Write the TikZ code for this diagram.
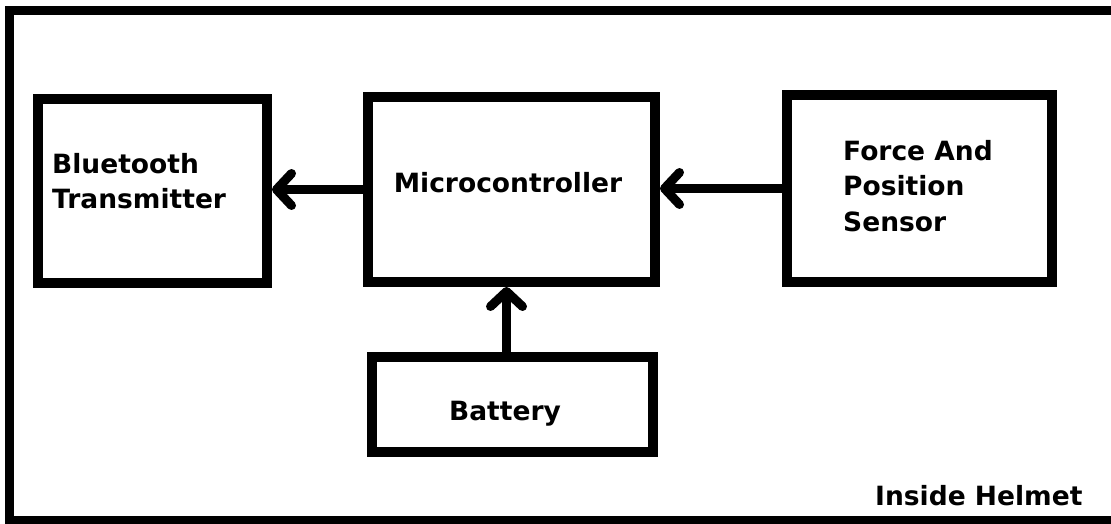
\documentclass[tikz,border=0pt]{standalone}
\usepackage{fontspec}
\setsansfont{DejaVu Sans}
\usetikzlibrary{arrows.meta}
\begin{document}
\begin{tikzpicture}[x=1pt,y=-1pt,
  blk/.style={draw=black,line width=10pt,rectangle,inner sep=0pt},
  txt/.style={inner sep=0pt,font=\sffamily\bfseries\fontsize{26.5}{35.5}\selectfont,align=left},
  arr/.style={line width=9pt,-{Straight Barb[length=15pt,width=32pt,round]}}]
\useasboundingbox (0,0) rectangle (1111,524);
\fill[white] (0,0) rectangle (1111,524);
\draw[line width=9pt] (9.5,10.5) rectangle (1130,520);
\node[blk,minimum width=229.5pt,minimum height=183.5pt] (bt) at (152.25,190.75) {};
\node[blk,minimum width=287pt,minimum height=185pt] (mc) at (511.5,189.5) {};
\node[blk,minimum width=265pt,minimum height=187pt] (fs) at (919.5,188.5) {};
\node[blk,minimum width=281pt,minimum height=95pt] (bat) at (512.5,404.5) {};
\node[txt,anchor=north west] (btt) at (52,153) {Bluetooth\\Transmitter};
\node[txt,anchor=base] (mct) at (508,192) {Microcontroller};
\node[txt,anchor=north west] (fst) at (843,140) {Force And\\Position\\Sensor};
\node[txt,anchor=base] (batt) at (505,420) {Battery};
\node[txt,anchor=base west] (ih) at (875,505) {Inside Helmet};
\draw[arr] (mc.west) -- (mc.west -| bt.east);
\draw[arr] (fs.west) -- (fs.west -| mc.east);
\draw[arr] ([xshift=-6pt]bat.north) -- ([xshift=-6pt]bat.north |- mc.south);
\end{tikzpicture}
\end{document}
